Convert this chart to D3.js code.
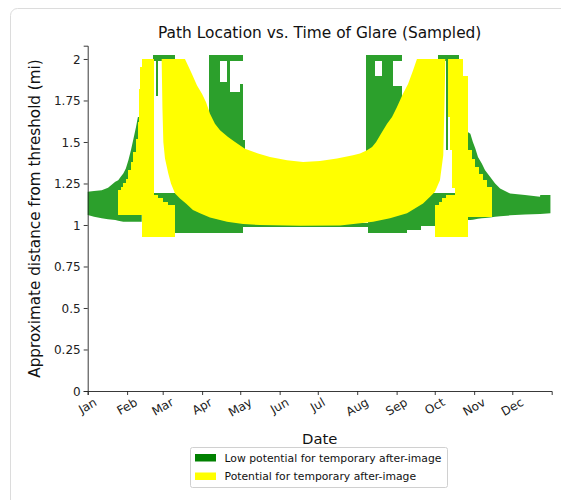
<!DOCTYPE html>
<html><head><meta charset="utf-8">
<script src="https://cdn.jsdelivr.net/npm/d3@7"></script>
<style>
html,body{margin:0;padding:0;background:#fff;}
svg{display:block;font-family:"DejaVu Sans",sans-serif;}
</style></head><body>
<svg id="chart" width="561" height="500"></svg>
<script>
// ---------- data ----------
const months = ["Jan","Feb","Mar","Apr","May","Jun","Jul","Aug","Sep","Oct","Nov","Dec"];
const monthStartDays = [0,31,59,90,120,151,181,212,243,273,304,334];
const yTickValues = [0,0.25,0.5,0.75,1,1.25,1.5,1.75,2];
const yTickLabels = ["0","0.25","0.5","0.75","1","1.25","1.5","1.75","2"];
const seriesNames = ["Low potential for temporary after-image","Potential for temporary after-image"];

// green (low potential) – wing envelopes [day, low, high]
const greenWingL = [[0,1.06,1.20],[5,1.05,1.205],[11,1.04,1.21],[16,1.035,1.225],[21.7,1.03,1.26],[24,1.025,1.27],[26,1.022,1.29],[28,1.02,1.31],[30,1.02,1.34],[32,1.02,1.39],[34,1.02,1.45],[36,1.02,1.52],[38,1.02,1.59],[39.5,1.02,1.65],[42.5,1.02,1.65]];
const greenWingR = [[299,1.03,1.56],[301,1.03,1.55],[303,1.032,1.50],[305,1.035,1.46],[307,1.037,1.41],[310,1.04,1.37],[312.6,1.042,1.33],[316.5,1.045,1.29],[320.5,1.05,1.25],[324.4,1.052,1.22],[332.3,1.058,1.19],[344,1.063,1.18],[355.8,1.066,1.17],[356,1.066,1.18],[364,1.07,1.18]];
// green sampled columns [startDay, endDay, low, high]
const greenCols = [
 [51,69,1.99,2.025],[54,55.3,1.78,2.0],[52,122,0.95,1.19],[122,247,0.988,1.01],
 [220.5,251,0.95,1.19],[251,262,0.97,1.19],[262,289,0.995,1.19],
 [275.5,292,1.99,2.025],[282,283.5,1.45,2.0],
 [95.5,104,1.40,2.025],[104,109.5,1.40,1.86],[104,109.5,1.99,2.025],[109.5,112,1.40,2.025],
 [112,119.5,1.40,1.80],[112,122.5,1.99,2.025],[119.5,122.5,1.40,1.85],[122.5,123.8,1.40,1.51],
 [219.3,226,1.40,2.025],[226,231.3,1.40,1.90],[226,231.3,1.99,2.025],[231.3,240,1.40,2.025],
 [240,247,1.40,1.84],[240,247,1.99,2.025]
];
// yellow (potential) columns [startDay, endDay, low, high]
const yellowCols = [
 [24,26,1.06,1.21],[26,28,1.06,1.23],[28,30,1.06,1.25],[30,32,1.06,1.28],[32,34,1.06,1.33],
 [34,36,1.06,1.38],[36,38,1.06,1.44],[38,39.5,1.06,1.52],[39.5,40.5,1.06,1.62],[40.5,41.5,1.06,1.82],
 [41.5,42.5,1.06,1.95],[42.5,52,0.93,2.0],[52,55,0.93,1.18],[55,59,0.93,1.16],[59,63,0.93,1.14],[63,69,0.93,1.12],
 [273,276,0.93,1.12],[276,279,0.93,1.14],[279,282,0.93,1.16],[282,289,0.93,1.18],
 [283.7,285,1.65,2.0],[285,286.5,1.45,2.0],[286.5,289,1.22,2.0],[289,295.5,0.93,2.0],[295.5,299.5,0.93,1.90],
 [299.5,302,1.05,1.45],[302,305,1.05,1.40],[305,308,1.05,1.35],[308,311,1.05,1.31],[311,314,1.05,1.27],[314,318,1.05,1.23]
];
// yellow main arch: upper and lower edges [day, value]
const archTop = [[58.2,2.0],[76.5,2.0],[78.9,1.96],[82,1.91],[86,1.84],[89.9,1.79],[93.1,1.74],[96.2,1.67],[100.1,1.61],[104.1,1.57],[110.4,1.53],[115.9,1.50],[123.7,1.46],[134,1.43],[143.4,1.41],[156.8,1.39],[169.4,1.38],[182.7,1.385],[196.1,1.40],[208.7,1.42],[214.2,1.43],[219.7,1.45],[223.7,1.47],[226.9,1.50],[230.7,1.55],[235.5,1.61],[239.4,1.65],[243.3,1.71],[248,1.79],[252,1.85],[255.9,1.93],[259,2.0],[281.3,2.0]];
const archBottom = [[58.2,1.99],[58.8,1.70],[59.5,1.50],[60.8,1.40],[63.4,1.31],[65.5,1.25],[68.7,1.19],[72.6,1.16],[77.3,1.13],[82.8,1.09],[88.3,1.07],[96.2,1.045],[109.6,1.02],[122.2,1.006],[135.5,1.0],[167,0.995],[198.5,0.997],[214.3,1.01],[224.5,1.02],[237.8,1.04],[251.2,1.07],[263.8,1.13],[269.3,1.17],[273.2,1.20],[277.1,1.27],[279.7,1.42],[280.6,1.70],[281.3,1.99]];

// ---------- drawing ----------
const GREEN = "#2ca02c", YELLOW = "#ffff00";
const svg = d3.select("#chart");
const t0 = Date.UTC(2023,0,1);
const day = d => new Date(t0 + d*864e5);
const x = d3.scaleUtc().domain([day(0), day(365)]).range([87.7, 551.7]);
const y = d3.scaleLinear().domain([0, 2.08]).range([391, 45.7]);

// container frame
svg.append("rect").attr("x",10.5).attr("y",8.5).attr("width",620).attr("height",600)
  .attr("rx",7).attr("fill","none").attr("stroke","#dcdcdc").attr("stroke-width",1);

const plot = svg.append("g");
const area = d3.area().x(d=>x(day(d[0]))).y0(d=>y(d[1])).y1(d=>y(d[2]));
const cols = (data, color) => plot.append("g").attr("shape-rendering","crispEdges")
  .selectAll("rect").data(data).join("rect")
  .attr("x", d=>x(day(d[0]))).attr("width", d=>x(day(d[1]))-x(day(d[0])))
  .attr("y", d=>y(d[3])).attr("height", d=>y(d[2])-y(d[3]))
  .attr("fill", color);

plot.append("path").datum(greenWingL).attr("d", area).attr("fill", GREEN);
plot.append("path").datum(greenWingR).attr("d", area).attr("fill", GREEN);
cols(greenCols, GREEN);
cols(yellowCols, YELLOW);
const line = d3.line().x(d=>x(day(d[0]))).y(d=>y(d[1]));
plot.append("path").datum(archTop.concat(archBottom.slice().reverse()))
  .attr("d", d=>line(d)+"Z").attr("fill", YELLOW);

// axes
const ax = svg.append("g").attr("transform","translate(0,391)")
  .call(d3.axisBottom(x).tickValues(monthStartDays.map(day)).tickFormat((d,i)=>months[i]).tickSizeOuter(0).tickSize(4));
const ay = svg.append("g").attr("transform","translate(87.7,0)")
  .call(d3.axisLeft(y).tickValues(yTickValues).tickFormat((d,i)=>yTickLabels[i]).tickSizeOuter(0).tickSize(4).tickPadding(3));
[ax, ay].forEach(g=>{
  g.select(".domain").attr("stroke","#222").attr("stroke-width",0.9);
  g.selectAll(".tick line").attr("stroke","#222").attr("stroke-width",0.9);
  g.selectAll(".tick text").attr("fill","#222").style("font-family","'DejaVu Sans'").style("font-size","12px");
});
ay.selectAll(".tick text").attr("dy","0.35em");
ax.selectAll(".tick text").each(function(){
  const t = d3.select(this);
  const w = this.getComputedTextLength();
  const h = 12*1.0;
  const bh = w*0.5 + h*0.866;
  t.attr("y",null).attr("dy",null).attr("text-anchor","middle").attr("dominant-baseline","central")
   .attr("transform",`translate(-0.5,${5 + bh/2}) rotate(-30)`);
});

// titles
svg.append("text").attr("x",319.7).attr("y",38).attr("text-anchor","middle")
  .style("font-size","15.4px").attr("fill","#111").text("Path Location vs. Time of Glare (Sampled)");
svg.append("text").attr("x",319.7).attr("y",444).attr("text-anchor","middle")
  .style("font-size","14.8px").attr("fill","#111").text("Date");
svg.append("text").attr("transform","translate(40,218.5) rotate(-90)").attr("text-anchor","middle")
  .style("font-size","15.2px").attr("fill","#111").text("Approximate distance from threshold (mi)");

// legend
const lg = svg.append("g");
lg.append("rect").attr("x",190.5).attr("y",447.5).attr("width",257).attr("height",40).attr("rx",2)
  .attr("fill","#fff").attr("stroke","#d0d0d0");
const legendColors = ["#008000", YELLOW];
seriesNames.forEach((n,i)=>{
  lg.append("rect").attr("x",195).attr("y",454 + i*18.5).attr("width",21).attr("height",7.5).attr("fill",legendColors[i]);
  lg.append("text").attr("x",224.5).attr("y",458 + i*18.5).attr("dominant-baseline","central")
    .style("font-size","10.8px").attr("fill","#111").text(n);
});
</script>
</body></html>
